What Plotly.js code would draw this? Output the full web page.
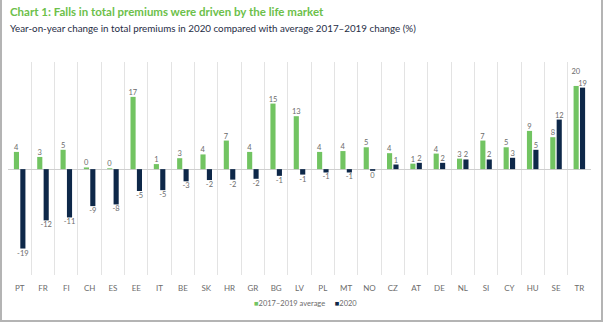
<!DOCTYPE html>
<html>
<head>
<meta charset="utf-8">
<script src="https://cdn.plot.ly/plotly-3.0.1.min.js"></script>
<style>
  html, body { margin: 0; padding: 0; background: #fff; }
  #wrap { width: 603px; height: 322px; position: relative; box-sizing: border-box;
          border-left: 2px solid #b4b4b4; border-right: 2px solid #b4b4b4; border-bottom: 2px solid #b4b4b4; }
  #chart { position: absolute; left: -2px; top: 0; width: 603px; height: 322px; }
</style>
</head>
<body>
<div id="wrap"><div id="chart"></div></div>
<script>
const countries = ["PT","FR","FI","CH","ES","EE","IT","BE","SK","HR","GR","BG","LV","PL","MT","NO","CZ","AT","DE","NL","SI","CY","HU","SE","TR"];
const avg2017_2019 = [4.1, 2.9, 4.6, 0.4, 0.2, 17.2, 1.2, 2.6, 3.5, 6.8, 4.1, 15.6, 12.6, 4.1, 4.3, 5.2, 3.8, 1.3, 3.7, 2.5, 6.8, 5.2, 9.1, 7.6, 19.8];
const chg2020 = [-18.9, -12.2, -11.5, -8.8, -8.4, -5.2, -5.0, -2.9, -2.6, -2.5, -2.3, -1.6, -1.3, -0.8, -0.8, -0.4, 1.1, 1.5, 1.5, 2.3, 2.3, 2.7, 4.6, 11.8, 19.4];
const avgLabels = ["4","3","5","0","0","17","1","3","4","7","4","15","13","4","4","5","4","1","4","3","7","5","9","8","20"];
const labels2020 = ["-19","-12","-11","-9","-8","-5","-5","-3","-2","-2","-2","-1","-1","-1","-1","0","1","2","2","2","2","3","5","12","19"];
const seriesNames = ["2017–2019 average", "2020"];
const seriesColors = ["#72c462", "#0e2849"];

const FONT = "Lato, 'Open Sans', sans-serif";
const labelFont = { family: FONT, size: 7.5, color: "#6b6b6b" };

// lift a wide green label one line when it would collide with the navy label beside it
const avgText = avgLabels.map((t, i) => {
  const close = avg2017_2019[i] > 0 && chg2020[i] > 0 && Math.abs(avg2017_2019[i] - chg2020[i]) < 2;
  return (close && t.length > 1 && labels2020[i].length > 1) ? t + "<br> " : t;
});

const common = { type: "bar", textposition: "outside", textangle: 0, constraintext: "none",
  cliponaxis: false, textfont: labelFont, outsidetextfont: labelFont, hoverinfo: "x+y" };

const traces = [
  Object.assign({}, common, { name: seriesNames[0], x: countries, y: avg2017_2019, text: avgText,
    marker: { color: seriesColors[0] } }),
  Object.assign({}, common, { name: seriesNames[1], x: countries, y: chg2020, text: labels2020,
    marker: { color: seriesColors[1] } })
];

const legendText =
  `<span style="color:${seriesColors[0]}">■</span>${seriesNames[0]}` +
  `&nbsp;&nbsp;&nbsp;&nbsp;&nbsp;` +
  `<span style="color:${seriesColors[1]}">■</span>${seriesNames[1]}`;

const layout = {
  width: 603, height: 322,
  margin: { l: 8, r: 12, t: 62, b: 47 },
  paper_bgcolor: "rgba(0,0,0,0)", plot_bgcolor: "rgba(0,0,0,0)",
  barmode: "group", bargap: 0.45, bargroupgap: 0.2,
  font: { family: FONT, color: "#555" },
  xaxis: {
    type: "category", tickson: "boundaries", showgrid: true, gridcolor: "#e3e3e3", gridwidth: 1,
    ticks: "", showline: false, zeroline: false,
    tickfont: { family: FONT, size: 8, color: "#6b6b6b" }, ticklabelstandoff: 7
  },
  yaxis: {
    range: [-25.2, 25.5], showgrid: false, showticklabels: false, ticks: "",
    zeroline: true, zerolinecolor: "#cfcfcf", zerolinewidth: 1, showline: false
  },
  showlegend: false,
  annotations: [
    { xref: "paper", yref: "paper", x: 0, y: 1.237, xanchor: "left", yanchor: "middle", showarrow: false,
      text: "<b>Chart 1: Falls in total premiums were driven by the life market</b>",
      font: { family: FONT, size: 11.5, color: "#6cc04a" } },
    { xref: "paper", yref: "paper", x: 0, y: 1.160, xanchor: "left", yanchor: "middle", showarrow: false,
      text: "Year-on-year change in total premiums in 2020 compared with average 2017–2019 change (%)",
      font: { family: FONT, size: 9.8, color: "#1f2d45" } },
    { xref: "paper", yref: "paper", x: 0.51, y: -0.136, xanchor: "center", yanchor: "middle", showarrow: false,
      text: legendText, font: { family: FONT, size: 7.5, color: "#6b6b6b" } }
  ]
};

Plotly.newPlot("chart", traces, layout, { displayModeBar: false, staticPlot: true });
</script>
</body>
</html>
